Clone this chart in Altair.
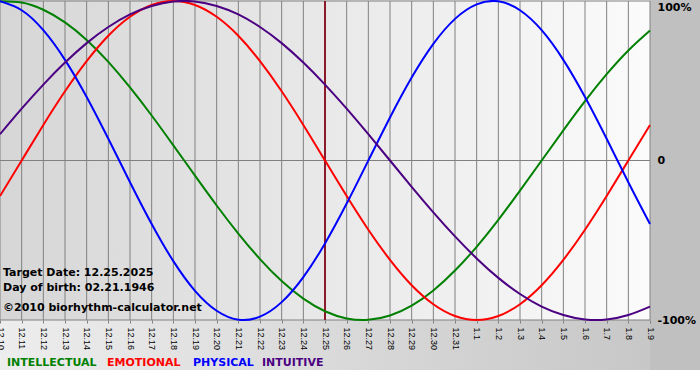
import altair as alt
import pandas as pd

# ---- data ----
dates = ["12.10", "12.11", "12.12", "12.13", "12.14", "12.15", "12.16", "12.17",
         "12.18", "12.19", "12.20", "12.21", "12.22", "12.23", "12.24", "12.25",
         "12.26", "12.27", "12.28", "12.29", "12.30", "12.31", "1.1", "1.2",
         "1.3", "1.4", "1.5", "1.6", "1.7", "1.8", "1.9"]

intellectual = [0.999, 0.990, 0.945, 0.866, 0.756, 0.618, 0.458, 0.282, 0.095,
                -0.095, -0.282, -0.458, -0.618, -0.756, -0.866, -0.945, -0.990,
                -0.999, -0.972, -0.910, -0.815, -0.690, -0.541, -0.372, -0.189,
                0.0, 0.189, 0.372, 0.541, 0.690, 0.815]

emotional = [-0.223, 0.0, 0.223, 0.434, 0.623, 0.782, 0.901, 0.975, 1.0,
             0.975, 0.901, 0.782, 0.623, 0.434, 0.223, 0.0, -0.223, -0.434,
             -0.623, -0.782, -0.901, -0.975, -1.0, -0.975, -0.901, -0.782,
             -0.623, -0.434, -0.223, 0.0, 0.223]

physical = [0.998, 0.942, 0.817, 0.631, 0.398, 0.136, -0.136, -0.398, -0.631,
            -0.817, -0.942, -0.998, -0.979, -0.888, -0.731, -0.520, -0.270, 0.0,
            0.270, 0.520, 0.731, 0.888, 0.979, 0.998, 0.942, 0.817, 0.631,
            0.398, 0.136, -0.136, -0.398]

intuitive = [0.165, 0.325, 0.476, 0.614, 0.736, 0.837, 0.916, 0.969, 0.997,
             0.997, 0.969, 0.916, 0.837, 0.736, 0.614, 0.476, 0.325, 0.165, 0.0,
             -0.165, -0.325, -0.476, -0.614, -0.736, -0.837, -0.916, -0.969,
             -0.997, -0.997, -0.969, -0.916]

series_names = ["INTELLECTUAL", "EMOTIONAL", "PHYSICAL", "INTUITIVE"]
series_colors = ["#008000", "#ff0000", "#0000ff", "#4b0082"]
target_dates = ["12.25"]
y_ticks = [-1, 0, 1]
info_lines = ["Target Date: 12.25.2025",
              "Day of birth: 02.21.1946",
              "\u00a92010 biorhythm-calculator.net"]

# ---- tables ----
rows = []
for name, vals in zip(series_names, [intellectual, emotional, physical, intuitive]):
    for d, v in zip(dates, vals):
        rows.append({"date": d, "value": v, "series": name})
df = pd.DataFrame(rows)
df_dates = pd.DataFrame({"date": dates})
df_target = pd.DataFrame({"date": target_dates})
df_hlines = pd.DataFrame({"value": y_ticks})
one = pd.DataFrame({"k": [0]})

W, H = 650, 319

x_axis = alt.Axis(
    orient="bottom", labelAngle=90, labelAlign="left", labelBaseline="middle",
    labelFont="Liberation Sans", labelFontSize=9, labelColor="#000000",
    labelPadding=4, labelOverlap=False, tickSize=3, tickColor="#808080",
    domain=False, grid=False, title=None, zindex=1,
)
y_axis = alt.Axis(
    orient="right", values=y_ticks,
    labelExpr="datum.value == 0 ? '0' : (datum.value > 0 ? '100%' : '-100%')",
    labelFont="DejaVu Sans", labelFontSize=11, labelFontWeight="bold",
    labelColor="#000000", labelPadding=7,
    labelBaseline={"condition": {"test": "datum.value == 1", "value": "top"}, "value": "middle"},
    ticks=False, domain=False, grid=False, title=None, zindex=1,
)

x_enc = alt.X("date:O", scale=alt.Scale(type="point", padding=0, domain=dates), axis=x_axis)
y_enc = alt.Y("value:Q", scale=alt.Scale(domain=[-1, 1], nice=False, zero=False), axis=y_axis)

# ---- backgrounds ----
plot_bg = alt.Chart(one).mark_rect(
    fill={"gradient": "linear", "x1": 0, "x2": 1, "y1": 0, "y2": 0,
          "stops": [{"offset": 0, "color": "#d6d6d6"}, {"offset": 1, "color": "#fbfbfb"}]}
).encode(x=alt.value(0), x2=alt.value(W), y=alt.value(-1), y2=alt.value(H))

strip_bg = alt.Chart(one).mark_rect(
    fill={"gradient": "linear", "x1": 0, "x2": 1, "y1": 0, "y2": 0,
          "stops": [{"offset": 0, "color": "#ededed"},
                    {"offset": 0.93, "color": "#c7c7c7"},
                    {"offset": 1, "color": "#c0c0c0"}]}
).encode(x=alt.value(0), x2=alt.value(700), y=alt.value(H), y2=alt.value(369))

right_bg = alt.Chart(one).mark_rect(fill="#c0c0c0").encode(
    x=alt.value(W), x2=alt.value(700), y=alt.value(-1), y2=alt.value(369))

# ---- grid ----
vgrid = alt.Chart(df_dates).mark_rule(color="#808080", strokeWidth=1).encode(x=x_enc)
hgrid = alt.Chart(df_hlines).mark_rule(color="#808080", strokeWidth=1).encode(y=y_enc)

target = alt.Chart(df_target).mark_rule(color="#8b1a2a", strokeWidth=2).encode(x=x_enc)

lines = alt.Chart(df).mark_line(strokeWidth=2, interpolate="natural").encode(
    x=x_enc, y=y_enc,
    color=alt.Color("series:N", scale=alt.Scale(domain=series_names, range=series_colors), legend=None),
)

# ---- texts ----
info_y = [275, 290, 310]
info_layers = [
    alt.Chart(one).mark_text(text=t, align="left", baseline="alphabetic",
                             font="DejaVu Sans", fontSize=11, fontWeight="bold",
                             color="#000000").encode(x=alt.value(3), y=alt.value(yy))
    for t, yy in zip(info_lines, info_y)
]

legend_x = [7, 107, 193, 262]
legend_layers = [
    alt.Chart(one).mark_text(text=n, align="left", baseline="alphabetic",
                             font="DejaVu Sans", fontSize=11, fontWeight="bold",
                             color=c).encode(x=alt.value(xx), y=alt.value(365))
    for n, c, xx in zip(series_names, series_colors, legend_x)
]

chart = alt.layer(
    plot_bg, strip_bg, right_bg, vgrid, hgrid, target, lines,
    *info_layers, *legend_layers
).properties(
    width=W, height=H,
    autosize=alt.AutoSizeParams(type="none"),
    padding={"left": 0, "top": 1, "right": 50, "bottom": 60},
).configure_view(strokeWidth=0).configure(background="#ffffff")

chart.save("out.html", embed_options={"renderer": "svg", "actions": False})
